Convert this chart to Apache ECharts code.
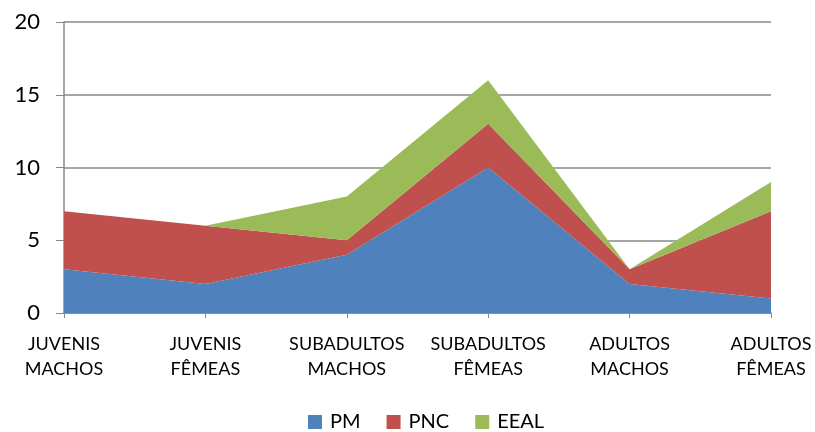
<!DOCTYPE html>
<html><head><meta charset="utf-8">
<script src="https://cdn.jsdelivr.net/npm/echarts@6/dist/echarts.min.js"></script>
<style>html,body{margin:0;padding:0;background:#fff}#c{width:815px;height:432px}</style>
</head><body><div id="c"></div>
<script>
const categories = ['JUVENIS\nMACHOS','JUVENIS\nFÊMEAS','SUBADULTOS\nMACHOS','SUBADULTOS\nFÊMEAS','ADULTOS\nMACHOS','ADULTOS\nFÊMEAS'];
const pm = [3, 2, 4, 10, 2, 1];
const pnc = [4, 4, 1, 3, 1, 6];
const eeal = [0, 0, 3, 3, 0, 2];
const seriesNames = ['PM','PNC','EEAL'];
const colors = ['#4F81BD','#C0504D','#9BBB59'];
const font = 'Lato, "Open Sans", sans-serif';
const chart = echarts.init(document.getElementById('c'));
const mk = (name, data, color) => ({
  name, type: 'line', stack: 'total', data, symbol: 'none',
  lineStyle: {width: 0}, areaStyle: {color, opacity: 1}, itemStyle: {color}
});
chart.setOption({
  animation: false,
  color: colors,
  grid: {left: 64, right: 44, top: 22, bottom: 119},
  legend: {
    top: 407, left: 303, itemWidth: 14, itemHeight: 14, itemGap: 26,
    icon: 'rect',
    textStyle: {fontSize: 20, fontFamily: font, color: '#000', padding: [0, 0, 0, 3]},
    data: seriesNames
  },
  xAxis: {
    type: 'category', boundaryGap: false, data: categories,
    axisLine: {lineStyle: {color: '#888', width: 1.5}},
    axisTick: {show: true, length: 5, lineStyle: {color: '#888'}},
    axisLabel: {fontSize: 18, fontFamily: font, color: '#000', lineHeight: 25, margin: 19, interval: 0}
  },
  yAxis: {
    type: 'value', min: 0, max: 20, interval: 5,
    axisLine: {show: true, lineStyle: {color: '#888', width: 1.5}},
    axisTick: {show: true, length: 8, lineStyle: {color: '#888'}},
    splitLine: {lineStyle: {color: '#888', width: 1.5}},
    axisLabel: {fontSize: 22, fontFamily: font, color: '#000', margin: 24}
  },
  series: [mk(seriesNames[0], pm, colors[0]), mk(seriesNames[1], pnc, colors[1]), mk(seriesNames[2], eeal, colors[2])]
});
</script></body></html>
